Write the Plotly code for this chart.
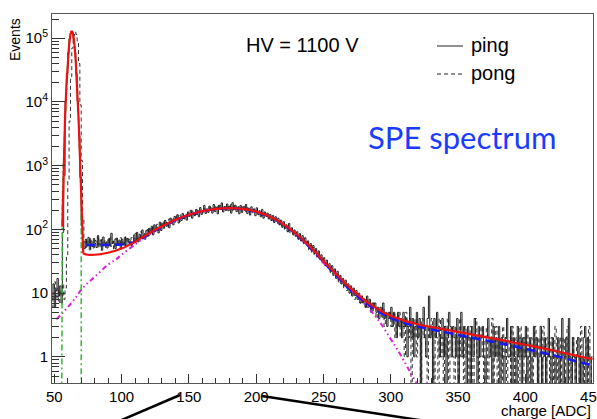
import numpy as np
import plotly.graph_objects as go

# ---------------- data ----------------
BIN_START = 48
BIN_WIDTH = 1

ping_counts = [
    8, 14, 6, 11, 17, 9, 13, 7, 90, 700,                              # 48-57
    10300, 28000, 59600, 98000, 126000, 126000, 98000, 59600, 28000, 10300,  # 58-67
    2960, 660, 115, 62, 50, 70, 55, 75, 48, 66,                       # 68-77
    54, 72, 60, 52, 80, 57, 68, 47, 76, 58,                           # 78-87
    63, 51, 71, 55, 87, 60, 66, 50, 73, 57,                           # 88-97
    68, 49, 70, 58, 75, 54, 72, 62, 66, 56,                           # 98-107
    60, 82, 66, 90, 64, 84, 72, 98, 80, 70,                           # 108-117
    96, 78, 104, 86, 112, 82, 118, 95, 108, 88,                       # 118-127
    130, 96, 122, 104, 138, 112, 124, 106, 150, 128,                  # 128-137
    118, 160, 136, 170, 126, 150, 138, 178, 148, 162,                 # 138-147
    140, 188, 160, 200, 150, 178, 165, 205, 172, 158,                 # 148-157
    220, 172, 196, 238, 178, 210, 185, 232, 198, 180,                 # 158-167
    246, 190, 220, 176, 240, 205, 260, 188, 228, 198,                 # 168-177
    250, 196, 232, 180, 262, 204, 240, 190, 222, 176,                 # 178-187
    238, 184, 226, 200, 246, 178, 215, 168, 226, 190,                 # 188-197
    210, 164, 218, 172, 196, 158, 206, 150, 188, 165,                 # 198-207
    180, 146, 172, 138, 165, 128, 158, 134, 150, 118,                 # 208-217
    140, 108, 132, 104, 118, 92, 124, 96, 106, 84,                    # 218-227
    98, 78, 92, 70, 86, 66, 80, 62, 74, 58,                           # 228-237
    66, 50, 60, 46, 56, 42, 50, 38, 46, 36,                           # 238-247
    40, 30, 36, 27, 33, 25, 29, 22, 27, 20,                           # 248-257
    24, 18, 22, 16, 19, 14, 17, 13, 16, 12,                           # 258-267
    14, 10, 13, 9, 12, 10, 11, 8, 10, 7,                              # 268-277
    9, 7, 8, 6, 9, 7, 8, 5, 7, 6,                                     # 278-287
    7, 5, 6, 4, 6, 5, 7, 4, 5, 3,                                     # 288-297
    5, 4, 6, 3, 5, 4, 2, 5, 3, 4,                                     # 298-307
    2, 5, 3, 4, 1, 3, 6, 2, 4, 1,                                     # 308-317
    3, 5, 2, 4, 0, 3, 6, 2, 1, 4,                                     # 318-327
    9, 2, 3, 0, 4, 2, 5, 3, 1, 2,                                     # 328-337
    4, 1, 3, 0, 2, 5, 3, 1, 3, 2,                                     # 338-347
    1, 4, 0, 2, 5, 1, 3, 2, 0, 3,                                     # 348-357
    2, 0, 3, 1, 4, 2, 0, 3, 1, 2,                                     # 358-367
    3, 1, 0, 2, 4, 1, 2, 0, 3, 1,                                     # 368-377
    2, 1, 3, 0, 2, 1, 0, 2, 4, 1,                                     # 378-387
    1, 3, 0, 2, 1, 0, 3, 1, 2, 0,                                     # 388-397
    2, 1, 3, 0, 1, 2, 0, 1, 3, 1,                                     # 398-407
    2, 0, 1, 3, 0, 1, 2, 0, 1, 4,                                     # 408-417
    1, 0, 2, 1, 0, 1, 2, 0, 1, 4,                                     # 418-427
    0, 1, 2, 0, 4, 1, 0, 2, 1, 0,                                     # 428-437
    1, 2, 0, 1, 0, 2, 3, 0, 2, 1,                                     # 438-447
    0, 1,                                                             # 448-449
]

pong_counts = [
    6, 10, 15, 8, 12, 7, 11, 9, 14, 8,                                # 48-57
    12, 40, 600, 5000, 25000, 70000, 110000, 125000, 115000, 90000,   # 58-67
    40000, 9000, 1200, 150, 64, 52, 70, 57, 74, 50,                   # 68-77
    62, 49, 67, 58, 74, 51, 63, 70, 55, 66,                           # 78-87
    52, 69, 60, 78, 54, 64, 49, 71, 58, 65,                           # 88-97
    55, 74, 60, 66, 52, 78, 63, 70, 58, 74,                           # 98-107
    76, 62, 86, 70, 78, 66, 92, 76, 88, 74,                           # 108-117
    84, 100, 80, 108, 90, 116, 92, 102, 120, 96,                      # 118-127
    104, 126, 110, 140, 118, 128, 110, 146, 124, 138,                 # 128-137
    146, 128, 158, 140, 164, 134, 172, 150, 140, 176,                 # 138-147
    170, 154, 182, 168, 196, 162, 190, 172, 200, 180,                 # 148-157
    192, 208, 182, 214, 196, 190, 226, 200, 218, 194,                 # 158-167
    214, 232, 200, 226, 210, 236, 204, 222, 214, 244,                 # 168-177
    208, 228, 214, 246, 200, 234, 210, 226, 204, 236,                 # 178-187
    204, 222, 196, 230, 192, 218, 186, 210, 196, 182,                 # 188-197
    200, 180, 196, 170, 190, 168, 184, 162, 176, 154,                 # 198-207
    168, 150, 160, 140, 154, 132, 146, 124, 140, 120,                 # 208-217
    124, 114, 120, 100, 112, 94, 104, 88, 98, 82,                     # 218-227
    88, 80, 84, 72, 78, 64, 72, 60, 66, 56,                           # 228-237
    62, 48, 56, 44, 52, 40, 47, 36, 43, 34,                           # 238-247
    36, 32, 30, 28, 29, 24, 26, 21, 24, 19,                           # 248-257
    22, 17, 20, 15, 18, 14, 16, 12, 15, 11,                           # 258-267
    13, 11, 12, 9, 11, 8, 10, 9, 8, 7,                                # 268-277
    8, 9, 7, 6, 8, 6, 7, 6, 5, 7,                                     # 278-287
    6, 4, 6, 5, 5, 4, 6, 3, 5, 4,                                     # 288-297
    4, 5, 3, 4, 5, 2, 4, 3, 5, 2,                                     # 298-307
    4, 3, 1, 5, 3, 2, 4, 0, 3, 2,                                     # 308-317
    4, 1, 3, 2, 0, 4, 2, 3, 1, 0,                                     # 318-327
    3, 2, 4, 1, 0, 3, 2, 0, 4, 1,                                     # 328-337
    2, 0, 3, 1, 4, 0, 2, 3, 1, 0,                                     # 338-347
    3, 2, 0, 4, 1, 2, 0, 3, 1, 2,                                     # 348-357
    0, 3, 1, 0, 2, 4, 1, 0, 2, 3,                                     # 358-367
    1, 0, 2, 3, 0, 1, 2, 4, 0, 1,                                     # 368-377
    3, 0, 1, 2, 0, 3, 1, 2, 0, 1,                                     # 378-387
    2, 0, 3, 1, 0, 2, 1, 0, 3, 1,                                     # 388-397
    0, 2, 1, 3, 0, 1, 2, 0, 1, 3,                                     # 398-407
    1, 0, 2, 1, 0, 3, 1, 0, 2, 1,                                     # 408-417
    0, 2, 1, 0, 3, 1, 0, 2, 0, 1,                                     # 418-427
    2, 0, 1, 3, 0, 1, 0, 2, 1, 0,                                     # 428-437
    2, 1, 0, 3, 1, 0, 1, 2, 0, 3,                                     # 438-447
    1, 0,                                                             # 448-449
]

# total fit (red): pedestal part and SPE + tail part
red_ped_x = [56, 56.5, 57, 58, 59, 60, 61, 62, 63, 64, 65, 66, 67, 68, 69, 70, 71, 71.5]
red_ped_y = [110, 400, 1400, 5700, 17600, 42000, 79000, 115000, 130000, 115000,
             79000, 42000, 17600, 5700, 1500, 300, 60, 42]
red_x = [71.5, 75, 80, 90, 100, 110, 120, 130, 140, 150, 160, 170, 180, 190, 200,
         210, 220, 230, 240, 250, 260, 270, 280, 290, 300, 310, 320, 340, 360, 380,
         400, 420, 440, 450]
red_y = [42, 40, 40, 43, 50, 64, 86, 112, 142, 170, 194, 210, 216, 210, 190,
         160, 122, 84, 54, 32, 19.5, 12, 8, 5.7, 4.4, 3.7, 3.25, 2.7, 2.25, 1.88,
         1.55, 1.27, 1.02, 0.92]

blue_x = [74, 80, 90, 100, 108, 115, 120, 130, 140, 150, 160, 170, 180, 190, 200,
          210, 220, 230, 240, 250, 260, 270, 280, 290, 300, 310, 320, 340, 360,
          380, 400, 420, 440, 450]
blue_y = [57, 57, 57, 58, 62, 72, 84, 110, 140, 168, 192, 208, 214, 208, 188,
          158, 120, 82, 52, 31, 18.5, 11.3, 7.5, 5.3, 4.1, 3.4, 3.0, 2.45, 2.0,
          1.65, 1.34, 1.07, 0.83, 0.74]

mag_x = [51.5, 55, 60, 65, 71, 80, 90, 96, 100, 110, 120, 130, 140, 150, 160, 170,
         180, 190, 200, 210, 220, 230, 240, 250, 260, 270, 280, 290, 300, 305, 310,
         315, 320, 325]
mag_y = [3.9, 4.6, 6, 8, 12, 18, 28, 34, 40, 58, 82, 110, 140, 168, 192, 208,
         214, 208, 188, 158, 120, 82, 52, 30, 19, 11.5, 7, 4.0, 1.9, 1.3, 0.85,
         0.55, 0.36, 0.22]

green_x = [55.5, 55.5, 56, 57, 58, 59, 60, 61, 62, 63, 64, 65, 66, 67, 68, 69, 70, 70]
green_y = [0.1, 150, 280, 1450, 5700, 17600, 42000, 79000, 115000, 130000, 115000,
           79000, 42000, 17600, 5700, 1450, 284, 0.1]

x_ticks = [50, 100, 150, 200, 250, 300, 350, 400, 450]
y_ticks = [1, 10, 100, 1000, 10000, 100000]
y_ticktext = ["1", "10", "10<sup>2</sup>", "10<sup>3</sup>", "10<sup>4</sup>", "10<sup>5</sup>"]

# ---------------- figure ----------------
W, H = 597, 419
ML, MR, MT, MB = 52, 4, 14, 36
PW, PH = W - ML - MR, H - MT - MB


def px(x):
    return (x - ML) / PW


def py(y):
    return (H - MB - y) / PH


ZERO_FLOOR = 0.05


def hist_xy(counts):
    c = np.array(counts, dtype=float)
    c = np.where(c > 0, c, ZERO_FLOOR)
    edges = BIN_START + BIN_WIDTH * np.arange(len(c) + 1)
    return edges, np.append(c, c[-1])


fig = go.Figure()

ex, ey = hist_xy(pong_counts)
fig.add_trace(go.Scatter(x=ex, y=ey, mode="lines", line_shape="hv", name="pong",
                         line=dict(color="#333333", width=1, dash="4px,3px")))
ex, ey = hist_xy(ping_counts)
fig.add_trace(go.Scatter(x=ex, y=ey, mode="lines", line_shape="hv", name="ping",
                         line=dict(color="#222222", width=1)))

fig.add_trace(go.Scatter(x=mag_x, y=mag_y, mode="lines", line_shape="spline",
                         line=dict(color="#d822d8", width=2, dash="5px,3px,1.5px,3px,1.5px,3px")))
fig.add_trace(go.Scatter(x=green_x, y=green_y, mode="lines",
                         line=dict(color="#33bb33", width=1.5, dash="6px,3px,2px,3px")))
fig.add_trace(go.Scatter(x=blue_x, y=blue_y, mode="lines", line_shape="spline",
                         line=dict(color="#1a1aee", width=2.5, dash="9px,5px")))
fig.add_trace(go.Scatter(x=red_ped_x, y=red_ped_y, mode="lines",
                         line=dict(color="#ee1111", width=2.2)))
fig.add_trace(go.Scatter(x=red_x, y=red_y, mode="lines", line_shape="spline",
                         line=dict(color="#ee1111", width=2.2)))

minor_y = [m * 10 ** k for k in range(-1, 6) for m in range(2, 10)]

tick_font = dict(family="Liberation Sans, Arial, sans-serif", size=15, color="black")

fig.update_layout(
    width=W, height=H,
    margin=dict(l=ML, r=MR, t=MT, b=MB, autoexpand=False),
    paper_bgcolor="white", plot_bgcolor="white",
    showlegend=False,
    xaxis=dict(range=[48.3, 450.3], tickmode="array", tickvals=x_ticks,
               ticks="inside", ticklen=9, tickcolor="#333", tickwidth=1,
               minor=dict(dtick=10, tick0=50, ticks="inside", ticklen=5,
                          tickcolor="#333", showgrid=False),
               showgrid=False, zeroline=False, showline=True, mirror=True,
               linecolor="#555", linewidth=1, tickfont=tick_font,
               ticklabeloverflow="allow", automargin=False),
    yaxis=dict(type="log", range=[-0.41, 5.38], tickmode="array",
               tickvals=y_ticks, ticktext=y_ticktext,
               ticks="inside", ticklen=13, tickcolor="#333", tickwidth=1,
               minor=dict(tickvals=minor_y, ticks="inside", ticklen=7,
                          tickcolor="#333", showgrid=False),
               showgrid=False, zeroline=False, showline=True, mirror=True,
               linecolor="#555", linewidth=1, tickfont=tick_font,
               automargin=False),
)

annots = [
    dict(text="Events", x=px(15), y=py(40), textangle=-90,
         font=dict(family="Liberation Sans, Arial", size=14, color="black")),
    dict(text="charge [ADC]", x=px(593), y=py(410), xanchor="right",
         font=dict(family="Liberation Sans, Arial", size=15, color="black")),
    dict(text="HV = 1100 V", x=px(244), y=py(45), xanchor="left",
         font=dict(family="Liberation Sans, Arial", size=20, color="black")),
    dict(text="ping", x=px(469), y=py(45), xanchor="left",
         font=dict(family="Liberation Sans, Arial", size=20, color="black")),
    dict(text="pong", x=px(469), y=py(73), xanchor="left",
         font=dict(family="Liberation Sans, Arial", size=20, color="black")),
    dict(text="SPE spectrum", x=px(462), y=py(137), xanchor="center",
         font=dict(family="Lato, Noto Sans, sans-serif", size=31, color="#1a3cff")),
]
for a in annots:
    a.setdefault("xanchor", "center")
    a.setdefault("yanchor", "middle")
    fig.add_annotation(xref="paper", yref="paper", showarrow=False, **a)

shapes = [
    dict(x0=px(437), x1=px(463), y0=py(46), y1=py(46), line=dict(color="#222", width=1)),
    dict(x0=px(437), x1=px(463), y0=py(74), y1=py(74), line=dict(color="#222", width=1, dash="4px,3px")),
    dict(x0=px(180), x1=px(110), y0=py(395), y1=py(425), line=dict(color="black", width=2.5)),
    dict(x0=px(262), x1=px(432), y0=py(396), y1=py(422), line=dict(color="black", width=2.5)),
]
for s in shapes:
    fig.add_shape(type="line", xref="paper", yref="paper", **s)

fig.write_html("out.html", config={"displayModeBar": False})
